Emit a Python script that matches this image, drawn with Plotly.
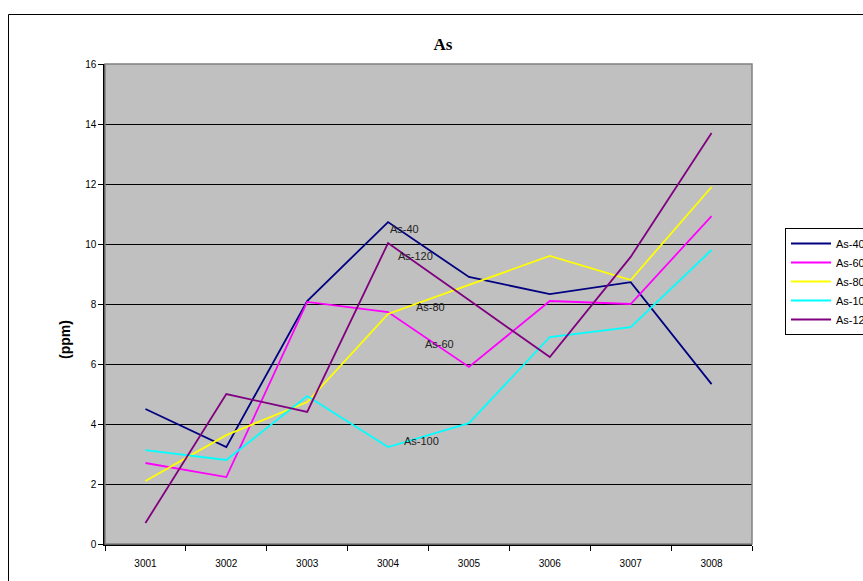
import plotly.graph_objects as go

# Sample sites on the x axis
sites = ["3001", "3002", "3003", "3004", "3005", "3006", "3007", "3008"]

# Arsenic concentration (ppm) per depth series
as_40 = [4.5, 3.23, 8.1, 10.73, 8.9, 8.33, 8.73, 5.33]
as_60 = [2.7, 2.23, 8.07, 7.73, 5.9, 8.1, 8.0, 10.93]
as_80 = [2.1, 3.63, 4.73, 7.67, 8.64, 9.6, 8.8, 11.9]
as_100 = [3.13, 2.8, 4.93, 3.23, 4.03, 6.9, 7.23, 9.8]
as_120 = [0.7, 5.0, 4.4, 10.03, 8.13, 6.23, 9.57, 13.7]

series_names = ["As-40", "As-60", "As-80", "As-100", "As-120"]
series_values = [as_40, as_60, as_80, as_100, as_120]
series_colors = ["#000080", "#FF00FF", "#FFFF00", "#00FFFF", "#800080"]

y_ticks = [0, 2, 4, 6, 8, 10, 12, 14, 16]

W, H = 863, 581
L, R, T, B = 105, 752, 64, 544  # plot area in pixels

SANS = "Liberation Sans, Arial, sans-serif"
SERIF = "Liberation Serif, Times New Roman, serif"

fig = go.Figure()
for name, vals, col in zip(series_names, series_values, series_colors):
    fig.add_trace(go.Scatter(
        x=sites, y=vals, name=name, mode="lines",
        line=dict(color=col, width=1.8),
    ))

# In-chart series labels: (series index, site index, x offset px, y offset px)
label_spots = [(0, 3, 0, -7), (4, 3, 8, -13), (2, 3, 26, 7), (1, 3, 35, -32), (3, 3, 14, 6)]
for si, xi, dx, dy in label_spots:
    fig.add_annotation(
        x=xi, y=series_values[si][xi], xref="x", yref="y",
        text=series_names[si], showarrow=False,
        xanchor="left", yanchor="middle", xshift=dx, yshift=dy,
        font=dict(family=SANS, size=11, color="#222222"),
    )

pw, ph = R - L, B - T
def px_to_paper_x(px):
    return (px - L) / pw
def px_to_paper_y(py):
    return (B - py) / ph

# Outer chart border (extends past right and bottom edges)
fig.add_shape(type="rect", xref="paper", yref="paper",
              x0=px_to_paper_x(8.5), x1=px_to_paper_x(900),
              y0=px_to_paper_y(620), y1=px_to_paper_y(14.5),
              line=dict(color="#000000", width=1), layer="below")
# Plot-area frame (top/right in gray)
fig.add_shape(type="rect", xref="paper", yref="paper",
              x0=0, x1=1, y0=0, y1=1,
              line=dict(color="#808080", width=1.5), layer="above")

# Y axis title
fig.add_annotation(
    xref="paper", yref="paper", x=px_to_paper_x(65), y=px_to_paper_y(340),
    xanchor="center", yanchor="middle",
    text="<b>(ppm)</b>", textangle=-90, showarrow=False,
    font=dict(family=SANS, size=14, color="#000000"),
)

fig.update_layout(
    width=W, height=H,
    margin=dict(l=L, r=W - R, t=T, b=H - B, autoexpand=False),
    paper_bgcolor="#FFFFFF",
    plot_bgcolor="#C0C0C0",
    title=dict(
        text="<b>As</b>", x=443 / W, y=1 - 44 / H, xref="container", yref="container",
        xanchor="center", yanchor="middle",
        font=dict(family=SERIF, size=17, color="#000000"),
    ),
    font=dict(family=SANS, size=10, color="#000000"),
    showlegend=True,
    legend=dict(
        x=px_to_paper_x(785), y=px_to_paper_y(228), xanchor="left", yanchor="top",
        bgcolor="#FFFFFF", bordercolor="#000000", borderwidth=1,
        font=dict(family=SANS, size=11, color="#000000"),
        itemwidth=40, tracegroupgap=0,
    ),
    xaxis=dict(
        type="category", range=[-0.5, 7.5],
        showgrid=False, zeroline=False,
        showline=True, linecolor="#000000", linewidth=1.5,
        ticks="outside", tickson="boundaries", ticklen=5, tickcolor="#000000",
        ticklabelstandoff=9,
        tickfont=dict(family=SANS, size=10, color="#000000"),
    ),
    yaxis=dict(
        range=[0, 16], tickvals=y_ticks,
        showgrid=True, gridcolor="#000000", gridwidth=1,
        zeroline=False,
        showline=True, linecolor="#000000", linewidth=1.5,
        ticks="outside", ticklen=5, tickcolor="#000000",
        tickfont=dict(family=SANS, size=10, color="#000000"),
    ),
)

fig.write_html("out.html")
